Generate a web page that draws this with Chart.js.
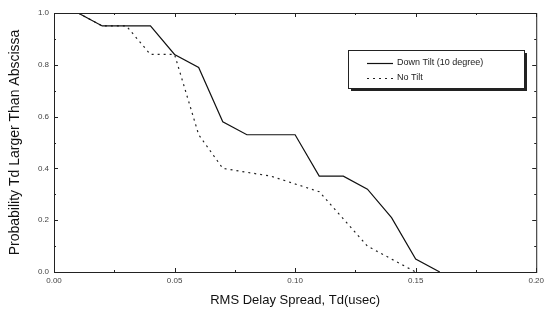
<!DOCTYPE html>
<html>
<head>
<meta charset="utf-8">
<script src="https://cdn.jsdelivr.net/npm/chart.js@4.4.3/dist/chart.umd.min.js"></script>
<style>
  html, body { margin: 0; padding: 0; background: #fff; }
  #wrap { width: 548px; height: 317px; position: relative; }
</style>
</head>
<body>
<div id="wrap"><canvas id="c" width="548" height="317"></canvas></div>
<script>
// Data
const tiltX = [0.01, 0.02, 0.04, 0.05, 0.06, 0.07, 0.08, 0.10, 0.11, 0.12, 0.13, 0.14, 0.15, 0.16];
const tiltY = [1.00, 0.95, 0.95, 0.84, 0.79, 0.58, 0.53, 0.53, 0.37, 0.37, 0.32, 0.21, 0.05, 0.00];
const noTiltX = [0.01, 0.02, 0.03, 0.04, 0.05, 0.06, 0.07, 0.09, 0.11, 0.13, 0.15];
const noTiltY = [1.00, 0.95, 0.95, 0.84, 0.84, 0.53, 0.40, 0.37, 0.31, 0.10, 0.00];
const xTicks = [0.00, 0.05, 0.10, 0.15, 0.20];
const yTicks = [0.0, 0.2, 0.4, 0.6, 0.8, 1.0];
const seriesNames = ['Down Tilt (10 degree)', 'No Tilt'];

const toPts = (xs, ys) => xs.map((x, i) => ({ x: x, y: ys[i] }));

// frame, inward ticks and boxed legend with drop shadow
const framePlugin = {
  id: 'frame',
  afterDraw(chart) {
    const ctx = chart.ctx;
    const a = chart.chartArea;
    const xs = chart.scales.x, ys = chart.scales.y;
    ctx.save();
    ctx.strokeStyle = '#222';
    ctx.lineWidth = 1;
    ctx.strokeRect(a.left + 0.5, a.top + 0.5, a.right - a.left, a.bottom - a.top);
    ctx.beginPath();
    for (let v = 0; v <= 0.2001; v += 0.025) {
      const px = Math.round(xs.getPixelForValue(v)) + 0.5;
      const len = Math.abs(v / 0.05 - Math.round(v / 0.05)) < 1e-6 ? 4 : 2;
      ctx.moveTo(px, a.bottom); ctx.lineTo(px, a.bottom - len);
      ctx.moveTo(px, a.top); ctx.lineTo(px, a.top + len);
    }
    for (let v = 0; v <= 1.0001; v += 0.1) {
      const py = Math.round(ys.getPixelForValue(v)) + 0.5;
      const len = Math.abs(v / 0.2 - Math.round(v / 0.2)) < 1e-6 ? 4 : 2;
      ctx.moveTo(a.left, py); ctx.lineTo(a.left + len, py);
      ctx.moveTo(a.right, py); ctx.lineTo(a.right - len, py);
    }
    ctx.stroke();

    // legend box
    const bx = 348, by = 50, bw = 176, bh = 38;
    ctx.fillStyle = '#222';
    ctx.fillRect(bx + 3, by + 3, bw, bh);
    ctx.fillStyle = '#fff';
    ctx.fillRect(bx, by, bw, bh);
    ctx.strokeStyle = '#222';
    ctx.strokeRect(bx + 0.5, by + 0.5, bw, bh);
    const ds = chart.data.datasets;
    const rows = [63, 78];
    ctx.font = '9px "Liberation Sans", Arial, sans-serif';
    ctx.textBaseline = 'middle';
    ds.forEach((d, i) => {
      ctx.strokeStyle = d.borderColor;
      ctx.lineWidth = d.borderWidth;
      ctx.setLineDash(d.borderDash || []);
      ctx.beginPath();
      ctx.moveTo(367, rows[i] + 0.5);
      ctx.lineTo(393, rows[i] + 0.5);
      ctx.stroke();
      ctx.setLineDash([]);
      ctx.fillStyle = '#222';
      ctx.fillText(d.label, 397, rows[i]);
    });
    ctx.restore();
  }
};

new Chart(document.getElementById('c'), {
  type: 'line',
  data: {
    datasets: [
      {
        label: seriesNames[0],
        data: toPts(tiltX, tiltY),
        borderColor: '#111',
        borderWidth: 1.2,
        pointRadius: 0,
        tension: 0,
        order: 0
      },
      {
        label: seriesNames[1],
        data: toPts(noTiltX, noTiltY),
        borderColor: '#222',
        borderWidth: 1.2,
        borderDash: [2, 4],
        pointRadius: 0,
        tension: 0,
        order: 1
      }
    ]
  },
  options: {
    responsive: false,
    animation: false,
    devicePixelRatio: 1,
    layout: { padding: { top: 13, right: 10, left: 7, bottom: 9 } },
    plugins: { legend: { display: false }, tooltip: { enabled: false } },
    scales: {
      x: {
        type: 'linear',
        min: 0, max: 0.2,
        afterBuildTicks: s => { s.ticks = xTicks.map(v => ({ value: v })); },
        afterFit: s => { s.height = 36; },
        grid: { display: false, drawTicks: false },
        border: { display: false },
        ticks: {
          padding: 4,
          color: '#444',
          font: { size: 8, family: '"Liberation Sans", Arial, sans-serif' },
          callback: v => v.toFixed(2)
        },
        title: {
          display: true,
          text: 'RMS Delay Spread, Td(usec)',
          color: '#111',
          padding: { top: 4, bottom: 0 },
          font: { size: 13, family: '"Liberation Sans", Arial, sans-serif' }
        }
      },
      y: {
        type: 'linear',
        min: 0, max: 1,
        afterBuildTicks: s => { s.ticks = yTicks.map(v => ({ value: v })); },
        afterFit: s => { s.width = 47; },
        grid: { display: false, drawTicks: false },
        border: { display: false },
        ticks: {
          padding: 5,
          color: '#444',
          font: { size: 8, family: '"Liberation Sans", Arial, sans-serif' },
          callback: v => v.toFixed(1)
        },
        title: {
          display: true,
          text: 'Probability Td Larger Than Abscissa',
          color: '#111',
          padding: { top: 0, bottom: 2 },
          font: { size: 14, family: '"Liberation Sans", Arial, sans-serif' }
        }
      }
    }
  },
  plugins: [framePlugin]
});
</script>
</body>
</html>
